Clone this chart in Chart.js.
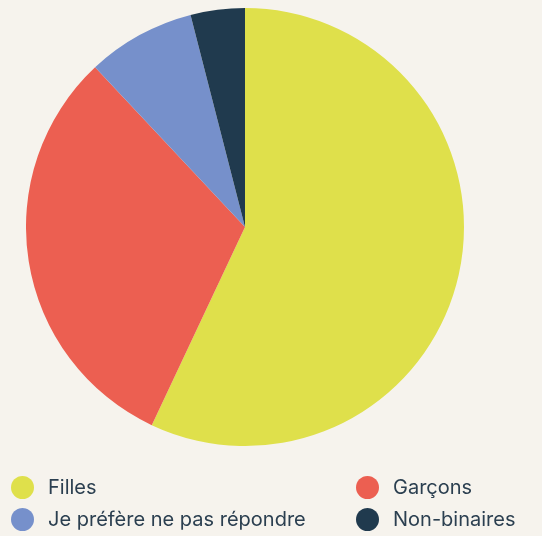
<!DOCTYPE html>
<html>
<head>
<meta charset="utf-8">
<script src="https://cdn.jsdelivr.net/npm/chart.js@4"></script>
<style>
  html, body { margin: 0; padding: 0; background: #f6f3ed; }
  body { width: 542px; height: 536px; position: relative; overflow: hidden; font-family: Inter, sans-serif; }
  #wrap { position: absolute; left: 26px; top: 8px; width: 438px; height: 438px; }
  #legend { position: absolute; left: 0; top: 0; width: 542px; height: 536px; pointer-events: none; }
  .item { position: absolute; display: flex; align-items: center; height: 24px; color: #2b3f50; font-size: 20px; line-height: 24px; }
  .dot { width: 23px; height: 23px; border-radius: 50%; margin-right: 14px; }
</style>
</head>
<body>
<div id="wrap"><canvas id="pie"></canvas></div>
<div id="legend"></div>
<script>
// values (percent)
const labels = ['Filles', 'Garçons', 'Je préfère ne pas répondre', 'Non-binaires'];
const values = [57, 31, 8, 4];
const colors = ['#dfe04b', '#ec5f51', '#7690cb', '#203a4e'];

const chart = new Chart(document.getElementById('pie'), {
  type: 'pie',
  data: {
    labels: labels,
    datasets: [{
      data: values,
      backgroundColor: colors,
      borderWidth: 0
    }]
  },
  options: {
    responsive: true,
    maintainAspectRatio: false,
    animation: false,
    layout: { padding: 0 },
    plugins: {
      legend: { display: false },
      tooltip: { enabled: false }
    }
  }
});

// two column legend under the pie
const spots = [[11, 475], [356, 475], [11, 507], [356, 507]];
const legend = document.getElementById('legend');
labels.forEach((l, i) => {
  const it = document.createElement('div');
  it.className = 'item';
  it.style.left = spots[i][0] + 'px';
  it.style.top = spots[i][1] + 'px';
  it.innerHTML = '<span class="dot" style="background:' + colors[i] + '"></span><span>' + l + '</span>';
  legend.appendChild(it);
});
</script>
</body>
</html>
